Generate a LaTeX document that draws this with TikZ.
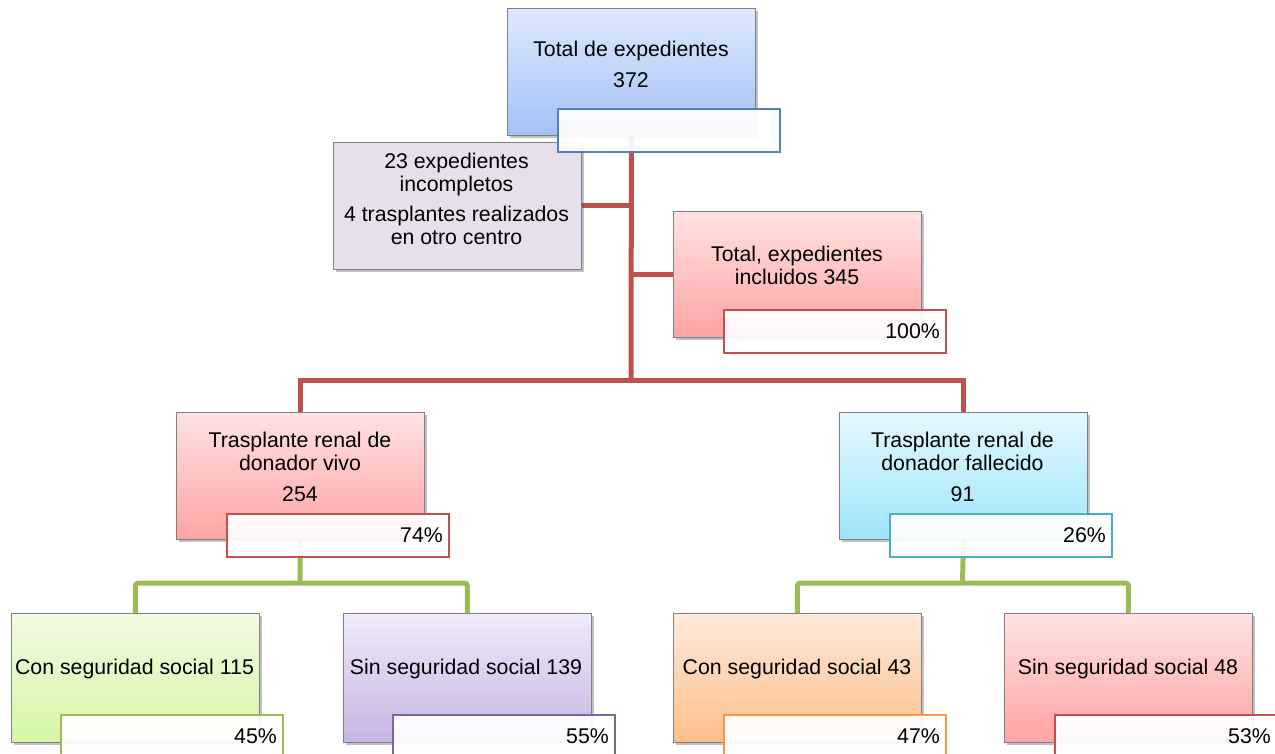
\documentclass[tikz,border=0pt]{standalone}
\usepackage{fontspec}
\setmainfont{Liberation Sans}
\usetikzlibrary{shadows,calc,backgrounds}
\definecolor{redln}{RGB}{192,80,77}
\definecolor{greenln}{RGB}{155,187,89}
\definecolor{bluebd}{RGB}{79,129,189}
\definecolor{tealbd}{RGB}{75,172,198}
\definecolor{purbd}{RGB}{128,100,162}
\definecolor{orgbd}{RGB}{247,150,70}
\definecolor{boxbd}{RGB}{128,128,128}
\definecolor{blueT}{RGB}{222,233,252}\definecolor{blueB}{RGB}{163,193,246}
\definecolor{grayF}{RGB}{229,224,236}
\definecolor{pinkT}{RGB}{255,226,226}\definecolor{pinkB}{RGB}{255,163,163}
\definecolor{cyanT}{RGB}{228,248,254}\definecolor{cyanB}{RGB}{158,229,251}
\definecolor{grnT}{RGB}{242,251,228}\definecolor{grnB}{RGB}{213,246,164}
\definecolor{purT}{RGB}{240,234,248}\definecolor{purB}{RGB}{198,180,227}
\definecolor{orgT}{RGB}{254,234,219}\definecolor{orgB}{RGB}{252,190,138}
\newcommand\diagfont{\fontsize{21.3}{23}\selectfont}
\tikzset{
  box/.style={draw=boxbd, line width=0.9pt, anchor=north west, inner sep=0pt,
    minimum width=248pt, minimum height=127pt,
    drop shadow={shadow xshift=2.5pt, shadow yshift=-2.5pt, opacity=0.35, fill=black!70}},
  ov/.style={draw=#1, line width=1.7pt, fill=white, fill opacity=0.93, text opacity=1,
    anchor=north west, minimum height=43pt, inner xsep=6pt, inner ysep=0pt,
    text width=210pt, align=right, font=\diagfont},
  txt/.style={font=\diagfont, align=center, inner sep=0pt},
  redline/.style={draw=redln, line width=5pt},
  greenline/.style={draw=greenln, line width=5pt, rounded corners=3pt}
}
\begin{document}
\begin{tikzpicture}[x=1pt,y=-1pt]
\useasboundingbox (0,0) rectangle (1275,753);
\clip (0,0) rectangle (1275,753);
% boxes
\node[box, top color=blueT, bottom color=blueB] (tot) at (507,8) {};
\node[box, fill=grayF] (inc) at (333,142) {};
\node[box, top color=pinkT, bottom color=pinkB, minimum height=126pt] (incl) at (673,211) {};
\node[box, top color=pinkT, bottom color=pinkB] (viv) at (176,412) {};
\node[box, top color=cyanT, bottom color=cyanB] (fal) at (839,412) {};
\node[box, top color=grnT, bottom color=grnB, minimum height=129pt] (c1) at (11,613) {};
\node[box, top color=purT, bottom color=purB, minimum height=129pt] (s1) at (343,613) {};
\node[box, top color=orgT, bottom color=orgB, minimum height=129pt] (c2) at (673,613) {};
\node[box, top color=pinkT, bottom color=pinkB, minimum height=129pt] (s2) at (1004,613) {};
% texts
\node[txt] (tott) at (631,64) {Total de expedientes\\[8pt]372};
\node[txt] (inct) at (456.5,199) {23 expedientes\\incompletos\\[7pt]4 trasplantes realizados\\en otro centro};
\node[txt] (inclt) at (797,265) {Total, expedientes\\incluidos 345};
\node[txt] (vivt) at (300,467) {Trasplante renal de\\donador vivo\\[8pt]254};
\node[txt] (falt) at (962.5,467) {Trasplante renal de\\donador fallecido\\[8pt]91};
\node[txt] (c1t) at (134.5,669) {Con seguridad social 115};
\node[txt] (s1t) at (466,669) {Sin seguridad social 139};
\node[txt] (c2t) at (797,669) {Con seguridad social 43};
\node[txt] (s2t) at (1128,669) {Sin seguridad social 48};
% percentage overlays
\node[ov=bluebd] (totp) at ($(tot.south west)+(50,-28)$) {};
\node[ov=redln] (inclp) at ($(incl.south west)+(50,-29)$) {100\%};
\node[ov=redln] (vivp) at ($(viv.south west)+(50,-27)$) {74\%};
\node[ov=tealbd] (falp) at ($(fal.south west)+(50,-27)$) {26\%};
\node[ov=greenln] (c1p) at ($(c1.south west)+(49,-29)$) {45\%};
\node[ov=purbd] (s1p) at ($(s1.south west)+(49,-29)$) {55\%};
\node[ov=orgbd] (c2p) at ($(c2.south west)+(50,-29)$) {47\%};
\node[ov=redln] (s2p) at ($(s2.south west)+(50,-29)$) {53\%};
% connectors
\coordinate (jr) at (631,380);
\coordinate (jg1) at (300,583);
\coordinate (jg2) at (962.5,583);
\begin{scope}[on background layer]
\draw[redline] (tot.south) -- (jr);
\draw[redline] (inc.east) -- (inc.east -| jr);
\draw[redline] (incl.west) -- (incl.west -| jr);
\draw[redline] (viv.north) |- (jr) -| (fal.north);
\draw[greenline] (viv.south) -- (jg1);
\draw[greenline] (c1.north) |- (jg1) -| (s1.north);
\draw[greenline] (fal.south) -- (jg2);
\draw[greenline] (c2.north) |- (jg2) -| (s2.north);
\end{scope}
\end{tikzpicture}
\end{document}
